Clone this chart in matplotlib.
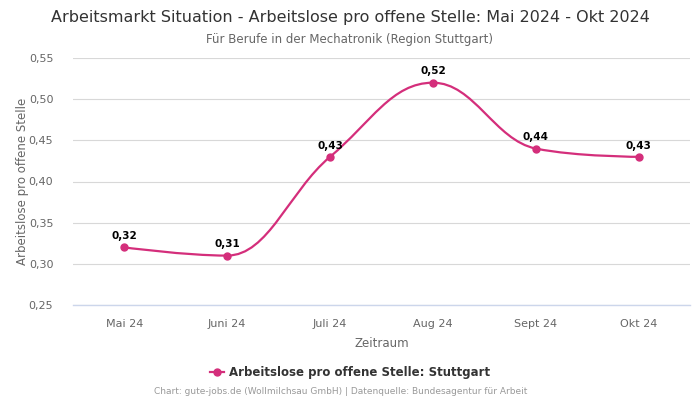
import matplotlib
import matplotlib.pyplot as plt
from matplotlib.path import Path
from matplotlib.patches import PathPatch
from matplotlib.lines import Line2D
from matplotlib.ticker import FuncFormatter

matplotlib.use("Agg")

monate = ["Mai 24", "Juni 24", "Juli 24", "Aug 24", "Sept 24", "Okt 24"]
werte = [0.32, 0.31, 0.43, 0.52, 0.44, 0.43]

FARBE = "#d42e7b"


def spline_pfad(xs, ys, smoothing=1.5):
    # Bezier-Kontrollpunkte wie bei einem Highcharts-Spline
    n = len(xs)
    links = [(xs[i], ys[i]) for i in range(n)]
    rechts = [(xs[i], ys[i]) for i in range(n)]
    denom = smoothing + 1
    for i in range(1, n - 1):
        px, py = xs[i], ys[i]
        lx, ly = xs[i - 1], ys[i - 1]
        nx, ny = xs[i + 1], ys[i + 1]
        lcx = (smoothing * px + lx) / denom
        lcy = (smoothing * py + ly) / denom
        rcx = (smoothing * px + nx) / denom
        rcy = (smoothing * py + ny) / denom
        korr = ((rcy - lcy) * (rcx - px)) / (rcx - lcx) + py - rcy
        lcy += korr
        rcy += korr
        if lcy > ly and lcy > py:
            lcy = max(ly, py)
            rcy = 2 * py - lcy
        elif lcy < ly and lcy < py:
            lcy = min(ly, py)
            rcy = 2 * py - lcy
        if rcy > ny and rcy > py:
            rcy = max(ny, py)
            lcy = 2 * py - rcy
        elif rcy < ny and rcy < py:
            rcy = min(ny, py)
            lcy = 2 * py - rcy
        links[i] = (lcx, lcy)
        rechts[i] = (rcx, rcy)
    verts = [(xs[0], ys[0])]
    codes = [Path.MOVETO]
    for i in range(1, n):
        verts += [rechts[i - 1], links[i], (xs[i], ys[i])]
        codes += [Path.CURVE4] * 3
    return Path(verts, codes)


fig = plt.figure(figsize=(7, 4), dpi=100)
ax = fig.add_axes([0.104, 0.2375, 0.882, 0.6175])

x = list(range(len(monate)))
ax.add_patch(PathPatch(spline_pfad(x, werte), fill=False, edgecolor=FARBE, linewidth=1.6, zorder=3))
ax.plot(x, werte, linestyle="none", marker="o", markersize=5, color=FARBE, zorder=4)

for xi, wert in zip(x, werte):
    ax.annotate(
        f"{wert:.2f}".replace(".", ","),
        (xi, wert),
        xytext=(0, 4.5),
        textcoords="offset points",
        ha="center",
        va="bottom",
        fontsize=7.5,
        fontweight="bold",
        color="black",
        zorder=5,
    )

ax.set_xlim(-0.5, len(monate) - 0.5)
ax.set_ylim(0.25, 0.55)
ax.set_yticks([0.25, 0.30, 0.35, 0.40, 0.45, 0.50, 0.55])
ax.yaxis.set_major_formatter(FuncFormatter(lambda v, _: f"{v:.2f}".replace(".", ",")))
ax.set_xticks(x)
ax.set_xticklabels(monate)
ax.tick_params(axis="both", length=0, labelsize=8, labelcolor="#666666")
ax.tick_params(axis="x", pad=10)
ax.tick_params(axis="y", pad=14)
ax.grid(axis="y", color="#d8d8d8", linewidth=0.8)
ax.set_axisbelow(True)
for side in ["top", "right", "left"]:
    ax.spines[side].set_visible(False)
ax.spines["bottom"].set_color("#ccd6eb")
ax.spines["bottom"].set_linewidth(1)

ax.set_xlabel("Zeitraum", fontsize=8.5, color="#666666", labelpad=6)
ax.set_ylabel("Arbeitslose pro offene Stelle", fontsize=8.5, color="#666666", labelpad=0)

fig.text(0.5, 0.957, "Arbeitsmarkt Situation - Arbeitslose pro offene Stelle: Mai 2024 - Okt 2024",
         ha="center", va="center", fontsize=11.5, color="#333333")
fig.text(0.5, 0.902, "Für Berufe in der Mechatronik (Region Stuttgart)",
         ha="center", va="center", fontsize=8.5, color="#666666")

griff = Line2D([0], [0], color=FARBE, marker="o", markersize=5, linewidth=1.6)
fig.legend([griff], ["Arbeitslose pro offene Stelle: Stuttgart"], loc="center",
           bbox_to_anchor=(0.5, 0.068), frameon=False, handlelength=1.2, handletextpad=0.4,
           prop={"size": 8.5, "weight": "bold"}, labelcolor="#333333")
fig.text(0.486, 0.02, "Chart: gute-jobs.de (Wollmilchsau GmbH) | Datenquelle: Bundesagentur für Arbeit",
         ha="center", va="center", fontsize=6.5, color="#999999")

fig.savefig("out.png", dpi=100)
plt.close(fig)
